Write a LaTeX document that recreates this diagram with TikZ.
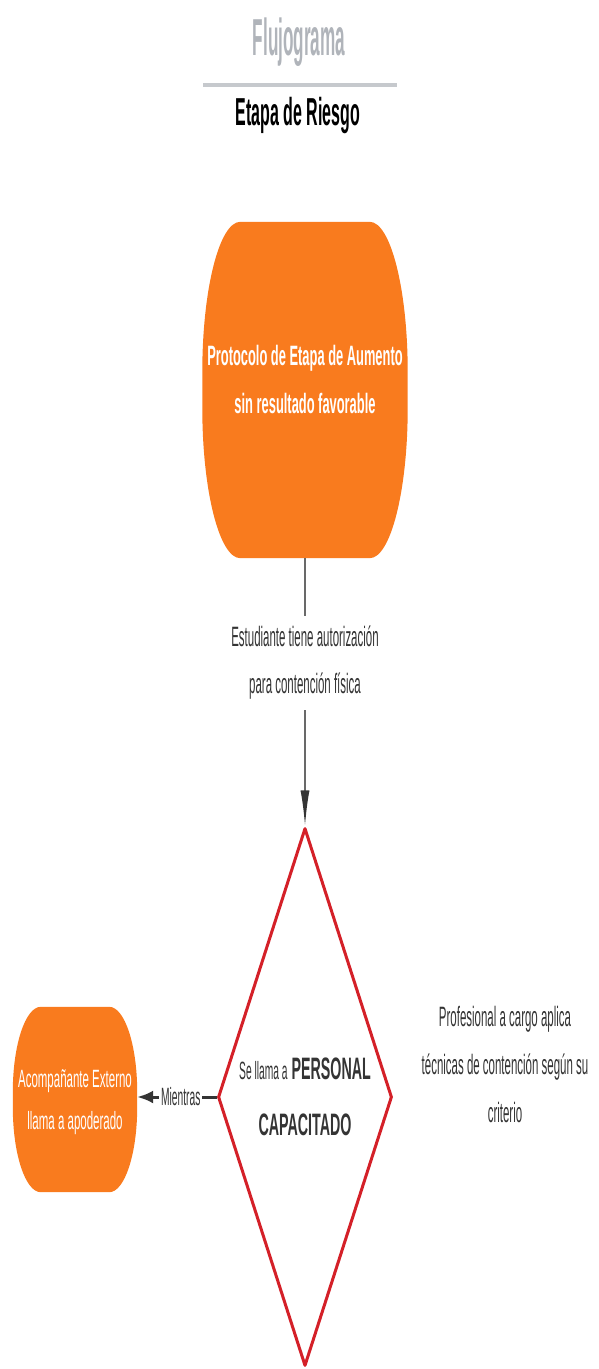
\documentclass[tikz,border=0pt]{standalone}
\usepackage{fontspec}
\setmainfont{Liberation Sans}
\newfontfamily\titlefont{Liberation Sans}[FakeStretch=0.33]
\newfontfamily\narrowfont{Liberation Sans}[FakeStretch=0.41]
\newfontfamily\boxfont{Liberation Sans}[FakeStretch=0.46]
\usetikzlibrary{arrows.meta,calc,positioning,shapes.geometric,backgrounds}
\definecolor{corange}{RGB}{249,123,30}
\definecolor{cred}{RGB}{212,32,40}
\definecolor{ctitle}{RGB}{176,180,186}
\definecolor{crule}{RGB}{198,201,205}
\definecolor{ctext}{RGB}{52,52,52}
\definecolor{clink}{RGB}{105,105,105}
\tikzset{
  maintitle/.style={font=\titlefont\bfseries\fontsize{52}{60}\selectfont,
    text=ctitle,inner sep=0pt,anchor=base},
  subtitle/.style={font=\narrowfont\bfseries\fontsize{39}{46}\selectfont,
    text=black,inner sep=0pt,anchor=base},
  titlerule/.style={crule,line width=4pt},
  % orange boxes: the outline is filled separately (see \softshape)
  softbox/.style={rectangle,draw=none,inner sep=0pt,align=center,text=white},
  decision/.style={diamond,draw=cred,line width=3pt,line join=round,fill=white,
    aspect=0.3234,inner sep=0pt,align=center,text=ctext},
  notetext/.style={font=\narrowfont\fontsize{28}{48}\selectfont,text=ctext,
    align=center,inner sep=0pt},
  linklabel/.style={font=\narrowfont\fontsize{28}{47}\selectfont,text=ctext,
    align=center,fill=white,inner xsep=2pt,inner ysep=10pt},
  vlink/.style={clink,line width=2pt,
    -{Latex[length=36pt,width=9pt,color=ctext]}},
  hlink/.style={ctext,line width=3pt,-{Latex[length=16pt,width=13pt]}}
}
% rounded box with elliptic corners drawn behind a named node
\newcommand{\softshape}[3]{%
  \fill[corange] let \p1=(#1.north west), \p2=(#1.south east) in
    ({\x1+#2},\y1) -- ({\x2-#2},\y1)
    .. controls ({\x2-0.45*#2},\y1) and (\x2,{\y1-0.45*#3}) .. (\x2,{\y1-#3})
    -- (\x2,{\y2+#3})
    .. controls (\x2,{\y2+0.45*#3}) and ({\x2-0.45*#2},\y2) .. ({\x2-#2},\y2)
    -- ({\x1+#2},\y2)
    .. controls ({\x1+0.45*#2},\y2) and (\x1,{\y2+0.45*#3}) .. (\x1,{\y2+#3})
    -- (\x1,{\y1-#3})
    .. controls (\x1,{\y1-0.45*#3}) and ({\x1+0.45*#2},\y1) .. ({\x1+#2},\y1)
    -- cycle;}

\begin{document}
\begin{tikzpicture}[x=1pt,y=-1pt,>=Latex]
  \useasboundingbox (0,0) rectangle (599,1369);
  \node[maintitle] (flujo) at (299,55) {Flujograma};
  \draw[titlerule] (203,85) -- (397,85);
  \node[subtitle] (etapa) at (298,125) {Etapa de Riesgo};

  \node[softbox,font=\boxfont\bfseries\fontsize{28}{48}\selectfont,
    minimum width=205pt,minimum height=336pt,text depth=22pt] (proto) at (305,390)
    {Protocolo de Etapa de Aumento\\sin resultado favorable};
  \node[decision,font=\boxfont\bfseries\fontsize{31}{56}\selectfont,
    minimum width=174pt,minimum height=538pt,text depth=0pt] (dec) at (305,1097)
    {{\narrowfont\mdseries\fontsize{25}{56}\selectfont Se llama a} PERSONAL\\CAPACITADO};
  \node[softbox,font=\boxfont\fontsize{25}{42}\selectfont,
    minimum width=124pt,minimum height=185pt,text depth=0pt] (acomp) at (75,1099.5)
    {Acompañante Externo\\llama a apoderado};
  \node[notetext] (prof) at (505,1064)
    {Profesional a cargo aplica\\técnicas de contención según su\\criterio};

  \draw[vlink] (proto) -- node[linklabel,pos=0.39] (cond)
    {Estudiante tiene autorización\\para contención física} (dec);
  \draw[hlink] (dec.west) -- node[linklabel,font=\narrowfont\fontsize{25}{30}\selectfont,
    inner ysep=1pt,pos=0.45] (mientras) {Mientras} (dec.west -| acomp.east);

  \begin{scope}[on background layer]
    \softshape{proto}{38pt}{150pt}
    \softshape{acomp}{28pt}{85pt}
  \end{scope}
\end{tikzpicture}
\end{document}
